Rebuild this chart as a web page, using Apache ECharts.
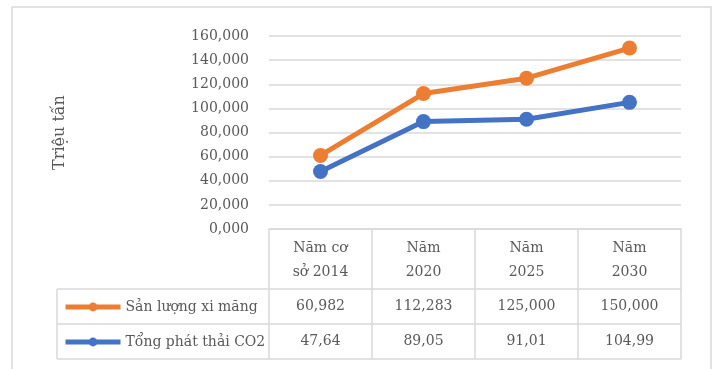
<!DOCTYPE html>
<html><head><meta charset="utf-8">
<script src="https://cdn.jsdelivr.net/npm/echarts@6/dist/echarts.min.js"></script>
<style>html,body{margin:0;padding:0;background:#fff}#c{width:718px;height:369px}</style>
</head><body><div id="c"></div>
<script>
var categories = ["Năm cơ\nsở 2014", "Năm\n2020", "Năm\n2025", "Năm\n2030"];
var seriesNames = ["Sản lượng xi măng", "Tổng phát thải CO2"];
var cementValues = [60.982, 112.283, 125.000, 150.000];
var co2Values = [47.64, 89.05, 91.01, 104.99];
var yTicks = [0, 20, 40, 60, 80, 100, 120, 140, 160];

function fmt(v, d) { return v.toFixed(d).replace('.', ','); }
var cementLabels = cementValues.map(function (v) { return fmt(v, 3); });
var co2Labels = co2Values.map(function (v) { return fmt(v, 2); });

var FONT = 'DejaVu Serif';
var TXT = '#595959';
var LINE = '#d9d9d9';
var GL = 269, GR = 681, GT = 36, GB = 229;
var ROW1 = 289, ROW2 = 324, ROW3 = 359, TBL_L = 57;

var chart = echarts.init(document.getElementById('c'), null, {renderer: 'canvas'});
var valueAxisBase = {
  type: 'category', gridIndex: 0, position: 'bottom',
  axisLine: {show: false}, axisTick: {show: false},
  axisLabel: {interval: 0, margin: 9, fontFamily: FONT, fontSize: 14, color: TXT, lineHeight: 16}
};
chart.setOption({
  animation: false,
  backgroundColor: '#fff',
  grid: {left: GL, right: 718 - GR, top: GT, bottom: 369 - GB, containLabel: false},
  legend: {
    orient: 'vertical', left: 63, top: 300, padding: 0, itemWidth: 55, itemHeight: 11, itemGap: 21,
    data: seriesNames,
    lineStyle: {width: 5},
    textStyle: {fontFamily: FONT, fontSize: 14, color: TXT}
  },
  xAxis: [
    {
      type: 'category', data: categories, gridIndex: 0, position: 'bottom', boundaryGap: true,
      axisLine: {show: true, lineStyle: {color: LINE, width: 1.5}},
      axisTick: {show: true, length: ROW3 - GB, lineStyle: {color: LINE, width: 1.5}},
      axisLabel: {interval: 0, margin: 7, fontFamily: FONT, fontSize: 14, color: TXT, lineHeight: 24}
    },
    Object.assign({}, valueAxisBase, {data: cementLabels, offset: ROW1 - GB}),
    Object.assign({}, valueAxisBase, {data: co2Labels, offset: ROW2 - GB})
  ],
  yAxis: {
    type: 'value', min: yTicks[0], max: yTicks[yTicks.length - 1], interval: yTicks[1] - yTicks[0],
    name: 'Triệu tấn', nameLocation: 'middle', nameRotate: 90, nameGap: 201,
    nameTextStyle: {fontFamily: FONT, fontSize: 16, color: TXT},
    axisLine: {show: false}, axisTick: {show: false},
    axisLabel: {margin: 20, fontFamily: FONT, fontSize: 14, color: TXT,
      formatter: function (v) { return fmt(v, 3); }},
    splitLine: {lineStyle: {color: LINE, width: 1.5}}
  },
  series: [
    {name: seriesNames[0], type: 'line', data: cementValues, xAxisIndex: 0,
      symbol: 'circle', symbolSize: 15,
      itemStyle: {color: '#ED7D31'}, lineStyle: {color: '#ED7D31', width: 5}},
    {name: seriesNames[1], type: 'line', data: co2Values, xAxisIndex: 0,
      symbol: 'circle', symbolSize: 15,
      itemStyle: {color: '#4472C4'}, lineStyle: {color: '#4472C4', width: 5}}
  ],
  graphic: [
    {type: 'rect', shape: {x: 12, y: 7, width: 699, height: 380}, style: {fill: null, stroke: LINE, lineWidth: 1.5}, silent: true},
    {type: 'line', shape: {x1: TBL_L, y1: ROW1, x2: GR, y2: ROW1}, style: {stroke: LINE, lineWidth: 1.5}},
    {type: 'line', shape: {x1: TBL_L, y1: ROW2, x2: GR, y2: ROW2}, style: {stroke: LINE, lineWidth: 1.5}},
    {type: 'line', shape: {x1: TBL_L, y1: ROW3, x2: GR, y2: ROW3}, style: {stroke: LINE, lineWidth: 1.5}},
    {type: 'line', shape: {x1: TBL_L, y1: ROW1, x2: TBL_L, y2: ROW3}, style: {stroke: LINE, lineWidth: 1.5}}
  ]
});
</script></body></html>
